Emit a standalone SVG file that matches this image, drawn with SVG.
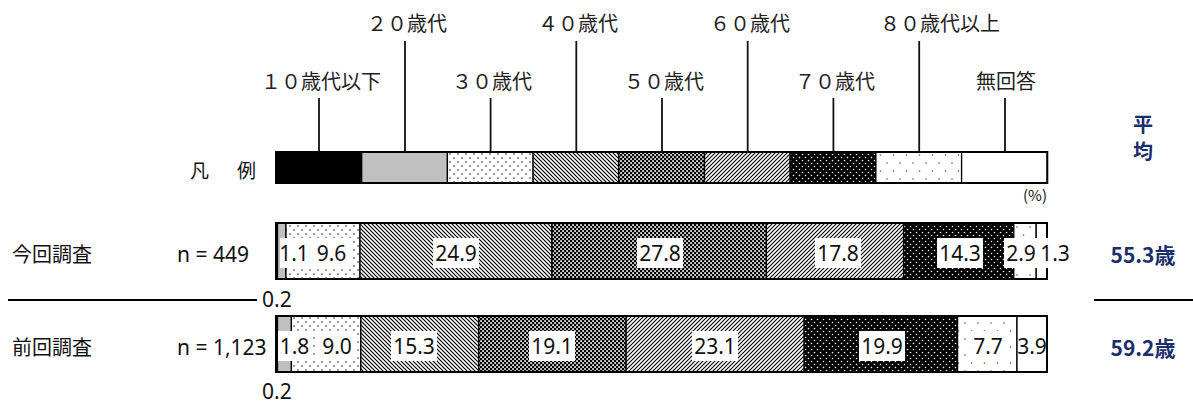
<svg xmlns="http://www.w3.org/2000/svg" width="1193" height="403" viewBox="0 0 1193 403">
<style>
.lab{font-family:"Noto Sans CJK JP","Noto Sans",sans-serif;font-size:20px;fill:#222;text-anchor:middle}
.row{font-family:"Noto Sans CJK JP","Noto Sans",sans-serif;font-size:20px;fill:#111}
.n{font-family:"Noto Sans","Noto Sans CJK JP",sans-serif;font-size:21px;fill:#111}
.v{font-family:"Noto Sans","Noto Sans CJK JP",sans-serif;font-size:21px;fill:#111;text-anchor:middle}
.avg{font-family:"Noto Sans CJK JP","Noto Sans",sans-serif;font-size:21px;font-weight:bold;fill:#1a2e6c;text-anchor:middle}
.avgh{font-family:"Noto Sans CJK JP","Noto Sans",sans-serif;font-size:20px;font-weight:bold;fill:#1a2e6c;text-anchor:middle}
.seg{stroke:#000;stroke-width:1.3}
.box{fill:#fff}
.lead{stroke:#111;stroke-width:1.8}
.frame{fill:none;stroke:#000;stroke-width:2}
.sep{stroke:#000;stroke-width:2}
.p0{fill:#000}
.p1{fill:#c0c0c0}
.p2{fill:url(#dots)}
.p3{fill:url(#back)}
.p4{fill:url(#check)}
.p5{fill:url(#fwd)}
.p6{fill:url(#bdots)}
.p7{fill:url(#sparse)}
.p8{fill:#fff}
</style>
<defs>
<pattern id="dots" width="8" height="8" patternUnits="userSpaceOnUse">
<rect width="8" height="8" fill="#fff"/>
<circle cx="2" cy="2" r="0.8" fill="#222"/>
<circle cx="6" cy="6" r="0.8" fill="#222"/>
</pattern>
<pattern id="back" width="4" height="4" patternUnits="userSpaceOnUse">
<rect width="4" height="4" fill="#fff"/>
<path d="M-1,-1 L5,5 M-1,3 L1,5 M3,-1 L5,1" stroke="#000" stroke-width="1.2"/>
</pattern>
<pattern id="fwd" width="4" height="4" patternUnits="userSpaceOnUse">
<rect width="4" height="4" fill="#fff"/>
<path d="M-1,5 L5,-1 M-1,1 L1,-1 M3,5 L5,3" stroke="#000" stroke-width="1.1"/>
</pattern>
<pattern id="check" width="4" height="4" patternUnits="userSpaceOnUse">
<rect width="4" height="4" fill="#000"/>
<rect x="0.2" y="0.2" width="1.7" height="1.7" fill="#fff"/>
<rect x="2.2" y="2.2" width="1.7" height="1.7" fill="#fff"/>
</pattern>
<pattern id="bdots" width="6" height="6" patternUnits="userSpaceOnUse">
<rect width="6" height="6" fill="#000"/>
<circle cx="1.5" cy="1.5" r="0.8" fill="#fff"/>
<circle cx="4.5" cy="4.5" r="0.8" fill="#fff"/>
</pattern>
<pattern id="sparse" width="13" height="16" patternUnits="userSpaceOnUse">
<rect width="13" height="16" fill="#fff"/>
<circle cx="3" cy="3" r="0.8" fill="#555"/>
<circle cx="9.5" cy="11" r="0.8" fill="#555"/>
</pattern>
</defs>

<g id="category-labels">
<text class="lab" x="321" y="89">１０歳代以下</text>
<text class="lab" x="407" y="31">２０歳代</text>
<text class="lab" x="492" y="89">３０歳代</text>
<text class="lab" x="578" y="31">４０歳代</text>
<text class="lab" x="664" y="89">５０歳代</text>
<text class="lab" x="750" y="31">６０歳代</text>
<text class="lab" x="835" y="89">７０歳代</text>
<text class="lab" x="940" y="31">８０歳代以上</text>
<text class="lab" x="1006" y="89">無回答</text>
</g>

<g id="connectors">
<line class="lead" x1="319" y1="98" x2="319" y2="152"/>
<line class="lead" x1="405" y1="41" x2="405" y2="152"/>
<line class="lead" x1="490.6" y1="98" x2="490.6" y2="152"/>
<line class="lead" x1="576.3" y1="41" x2="576.3" y2="152"/>
<line class="lead" x1="662" y1="98" x2="662" y2="152"/>
<line class="lead" x1="747.7" y1="41" x2="747.7" y2="152"/>
<line class="lead" x1="833.4" y1="98" x2="833.4" y2="152"/>
<line class="lead" x1="919.2" y1="41" x2="919.2" y2="152"/>
<line class="lead" x1="1005" y1="98" x2="1005" y2="152"/>
</g>

<g id="legend">
<text class="row" x="190" y="178" style="font-size:19px">凡</text>
<text class="row" x="237" y="178" style="font-size:19px">例</text>
<rect class="seg p0" x="276" y="152" width="85.7" height="31"/>
<rect class="seg p1" x="361.7" y="152" width="85.7" height="31"/>
<rect class="seg p2" x="447.4" y="152" width="85.7" height="31"/>
<rect class="seg p3" x="533.1" y="152" width="85.7" height="31"/>
<rect class="seg p4" x="618.8" y="152" width="85.7" height="31"/>
<rect class="seg p5" x="704.5" y="152" width="85.7" height="31"/>
<rect class="seg p6" x="790.2" y="152" width="85.7" height="31"/>
<rect class="seg p7" x="875.9" y="152" width="85.7" height="31"/>
<rect class="seg p8" x="961.6" y="152" width="85.7" height="31"/>
<rect class="frame" x="276" y="152" width="771.3" height="31"/>
<text x="1047" y="201" style="font-family:'Noto Sans CJK JP','Noto Sans',sans-serif;font-size:15px;fill:#111;text-anchor:end">(%)</text>
</g>

<g id="average-header">
<text class="avgh" x="1143" y="132">平</text>
<text class="avgh" x="1143" y="159">均</text>
</g>

<g id="row-current">
<text class="row" x="12" y="262">今回調査</text>
<text class="n" x="177" y="262">n = 449</text>
<rect class="seg p0" x="276" y="223" width="1.5" height="56"/>
<rect class="seg p1" x="277.5" y="223" width="8.5" height="56"/>
<rect class="seg p2" x="286" y="223" width="74" height="56"/>
<rect class="seg p3" x="360" y="223" width="192" height="56"/>
<rect class="seg p4" x="552" y="223" width="214.4" height="56"/>
<rect class="seg p5" x="766.4" y="223" width="137.2" height="56"/>
<rect class="seg p6" x="903.6" y="223" width="110.2" height="56"/>
<rect class="seg p7" x="1013.8" y="223" width="22.4" height="56"/>
<rect class="seg p8" x="1036.2" y="223" width="10.8" height="56"/>
<rect class="frame" x="276" y="223" width="771" height="56"/>
<rect class="box" x="280" y="238" width="28" height="30"/>
<rect class="box" x="308" y="238" width="44" height="30"/>
<rect class="box" x="433" y="238" width="46" height="30"/>
<rect class="box" x="637" y="238" width="46" height="30"/>
<rect class="box" x="815" y="238" width="46" height="30"/>
<rect class="box" x="937" y="238" width="46" height="30"/>
<rect class="box" x="1004" y="238" width="34" height="30"/>
<rect class="box" x="1038" y="238" width="35" height="30"/>
<text class="v" x="294" y="261">1.1</text>
<text class="v" x="331.5" y="261">9.6</text>
<text class="v" x="456" y="261">24.9</text>
<text class="v" x="660" y="261">27.8</text>
<text class="v" x="838" y="261">17.8</text>
<text class="v" x="960" y="261">14.3</text>
<text class="v" x="1021" y="261">2.9</text>
<text class="v" x="1055" y="261">1.3</text>
<text class="avg" x="1143" y="263">55.3歳</text>
</g>

<g id="separator">
<line class="sep" x1="8" y1="300" x2="257" y2="300"/>
<text class="n" x="262" y="307">0.2</text>
<line class="sep" x1="1094" y1="300" x2="1193" y2="300"/>
</g>

<g id="row-previous">
<text class="row" x="12" y="355">前回調査</text>
<text class="n" x="177" y="355">n = 1,123</text>
<rect class="seg p0" x="276" y="316" width="1.5" height="56"/>
<rect class="seg p1" x="277.5" y="316" width="13.9" height="56"/>
<rect class="seg p2" x="291.4" y="316" width="69.4" height="56"/>
<rect class="seg p3" x="360.8" y="316" width="118" height="56"/>
<rect class="seg p4" x="478.8" y="316" width="147.3" height="56"/>
<rect class="seg p5" x="626.1" y="316" width="178.1" height="56"/>
<rect class="seg p6" x="804.2" y="316" width="153.4" height="56"/>
<rect class="seg p7" x="957.6" y="316" width="59.4" height="56"/>
<rect class="seg p8" x="1017" y="316" width="30" height="56"/>
<rect class="frame" x="276" y="316" width="771" height="56"/>
<rect class="box" x="278" y="331" width="34" height="30"/>
<rect class="box" x="316" y="331" width="41" height="30"/>
<rect class="box" x="391" y="331" width="46" height="30"/>
<rect class="box" x="529" y="331" width="46" height="30"/>
<rect class="box" x="692" y="331" width="46" height="30"/>
<rect class="box" x="859" y="331" width="46" height="30"/>
<rect class="box" x="971" y="331" width="34" height="30"/>
<rect class="box" x="1018" y="331" width="28" height="30"/>
<text class="v" x="294.5" y="354">1.8</text>
<text class="v" x="337" y="354">9.0</text>
<text class="v" x="414" y="354">15.3</text>
<text class="v" x="552" y="354">19.1</text>
<text class="v" x="715" y="354">23.1</text>
<text class="v" x="882" y="354">19.9</text>
<text class="v" x="988" y="354">7.7</text>
<text class="v" x="1032" y="354">3.9</text>
<text class="n" x="262" y="399">0.2</text>
<text class="avg" x="1143" y="356">59.2歳</text>
</g>
</svg>
